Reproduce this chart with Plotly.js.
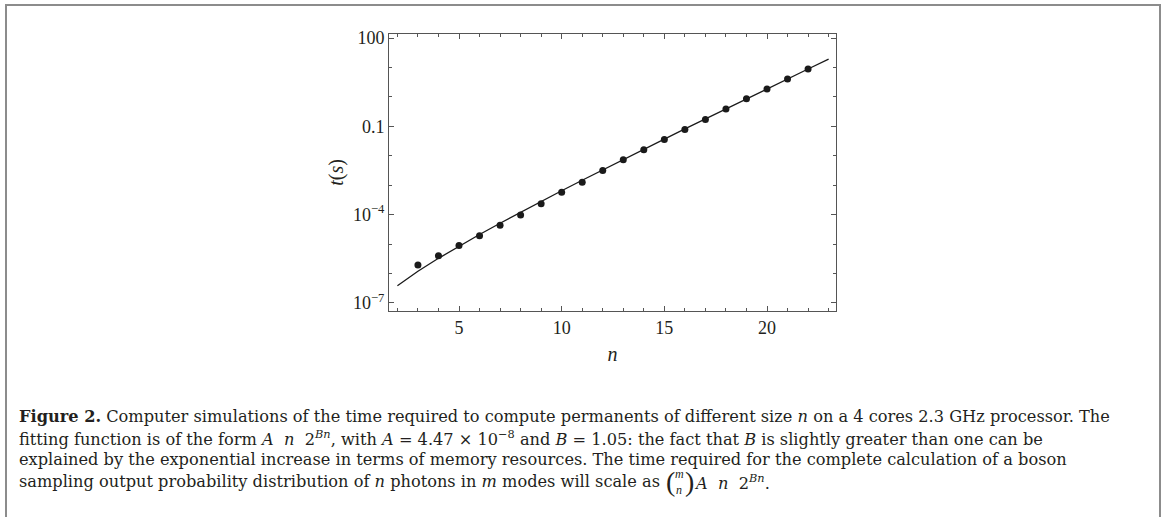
<!DOCTYPE html>
<html><head><meta charset="utf-8">
<script src="https://cdn.plot.ly/plotly-3.0.1.min.js"></script>
<style>html,body{margin:0;padding:0;background:#fff;} #chart{width:1165px;height:517px;}</style>
</head><body><div id="chart"></div>
<script>
// measured data points (n, time in seconds)
const nData = [3,4,5,6,7,8,9,10,11,12,13,14,15,16,17,18,19,20,21,22];
const tData = [1.96e-6,4.0e-6,8.9e-6,1.94e-5,4.4e-5,9.8e-5,2.33e-4,5.8e-4,1.27e-3,3.16e-3,7.3e-3,1.59e-2,3.58e-2,7.8e-2,0.171,0.385,0.863,1.84,4.03,8.83];
// fitted curve
const nFit = [2,3,4,5,6,7,8,9,10,11,12,13,14,15,16,17,18,19,20,21,22,23];
const tFit = [3.83e-7,1.19e-6,3.29e-6,8.51e-6,2.11e-5,5.10e-5,1.21e-4,2.81e-4,6.47e-4,1.47e-3,3.33e-3,7.47e-3,1.66e-2,3.70e-2,8.16e-2,0.180,0.394,0.860,1.87,4.08,8.84,19.1];
// ticks
const xTickVals = [5,10,15,20];
const xTickText = ['5','10','15','20'];
const xMinorVals = [2,3,4,6,7,8,9,11,12,13,14,16,17,18,19,21,22,23];
const yTickVals = [100,0.1,1e-4,1e-7];
const yTickText = ['100','0.1','10<sup>\u22124</sup>','10<sup>\u22127</sup>'];
const yMinorVals = [10,1,0.01,0.001,1e-5,1e-6];
// caption
const captionLines = [
  '<b>Figure 2.</b> Computer simulations of the time required to compute permanents of different size <i>n</i> on a 4 cores 2.3 GHz processor. The',
  'fitting function is of the form <i>A</i>\u00a0\u00a0<i>n</i>\u00a0\u00a02<sup><i>Bn</i></sup>, with <i>A</i> = 4.47 \u00d7 10<sup>\u22128</sup> and <i>B</i> = 1.05: the fact that <i>B</i> is slightly greater than one can be',
  'explained by the exponential increase in terms of memory resources. The time required for the complete calculation of a boson',
  'sampling output probability distribution of <i>n</i> photons in <i>m</i> modes will scale as'
];
const captionTail = '<i>A</i>\u00a0\u00a0<i>n</i>\u00a0\u00a02<sup><i>Bn</i></sup>.';

const L = 389, R = 836, T = 34, B = 311, W = 1165, H = 517;
const px = x => (x - L) / (R - L);
const py = y => (B - y) / (B - T);
const serif = 'Liberation Serif, Times New Roman, serif';
const capSerif = 'DejaVu Serif, Liberation Serif, serif';
const capFont = {family: capSerif, size: 16.2, color: '#231f20'};
const lineY = [416, 437.5, 459, 482];

const annotations = captionLines.map((t, i) => ({
  text: t, xref: 'paper', yref: 'paper', x: px(17), y: py(lineY[i]),
  xanchor: 'left', yanchor: 'middle', showarrow: false, align: 'left', font: capFont
}));

const frameColor = '#555';
const layout = {
  width: W, height: H,
  margin: {l: L, r: W - R, t: T, b: H - B, pad: 0},
  paper_bgcolor: '#fff', plot_bgcolor: '#fff',
  showlegend: false,
  xaxis: {
    range: [1.591, 23.36], showgrid: false, zeroline: false,
    showline: true, linecolor: frameColor, linewidth: 1, mirror: 'allticks',
    ticks: 'inside', ticklen: 5, tickcolor: frameColor, tickwidth: 1,
    tickmode: 'array', tickvals: xTickVals, ticktext: xTickText,
    tickfont: {family: serif, size: 18, color: '#231f20'},
    minor: {tickmode: 'array', tickvals: xMinorVals, ticks: 'inside', ticklen: 3, tickcolor: frameColor, showgrid: false},
    title: {text: '<i>n</i>', font: {family: serif, size: 20, color: '#231f20'}, standoff: 10}
  },
  yaxis: {
    type: 'log', range: [-7.272, 2.136], showgrid: false, zeroline: false,
    showline: true, linecolor: frameColor, linewidth: 1, mirror: 'allticks',
    ticks: 'inside', ticklen: 5, tickcolor: frameColor, tickwidth: 1,
    tickmode: 'array', tickvals: yTickVals, ticktext: yTickText,
    tickfont: {family: serif, size: 18, color: '#231f20'},
    minor: {tickmode: 'array', tickvals: yMinorVals, ticks: 'inside', ticklen: 3, tickcolor: frameColor, showgrid: false},
    title: {text: '<i>t</i>(<i>s</i>)', font: {family: serif, size: 20, color: '#231f20'}, standoff: 3}
  },
  shapes: [{
    type: 'rect', xref: 'paper', yref: 'paper', x0: px(6), x1: px(1160), y0: py(5), y1: py(540),
    line: {color: '#8c8c8c', width: 2}, fillcolor: 'rgba(0,0,0,0)', layer: 'below'
  }],
  annotations: annotations
};

const traces = [
  {x: nFit, y: tFit, mode: 'lines', type: 'scatter', line: {color: '#1a1a1a', width: 1.3}, hoverinfo: 'skip'},
  {x: nData, y: tData, mode: 'markers', type: 'scatter', marker: {color: '#1a1a1a', size: 7}}
];

Plotly.newPlot('chart', traces, layout, {displayModeBar: false, staticPlot: true}).then(gd => {
  const el = gd.querySelector('.annotation[data-index="3"] .annotation-text');
  const root = gd.getBoundingClientRect();
  const x0 = el ? el.getBoundingClientRect().right - root.left : 955;
  const yc = lineY[3];
  const extra = [
    {text: '(', x: px(x0 + 4), y: py(yc), font: {family: serif, size: 28, color: '#231f20'}},
    {text: '<i>m</i>', x: px(x0 + 13), y: py(yc - 8), font: {family: serif, size: 12, color: '#231f20'}},
    {text: '<i>n</i>', x: px(x0 + 14), y: py(yc + 8), font: {family: serif, size: 12, color: '#231f20'}},
    {text: ')', x: px(x0 + 23), y: py(yc), font: {family: serif, size: 28, color: '#231f20'}},
    {text: captionTail, x: px(x0 + 32), y: py(yc), font: capFont}
  ].map(a => Object.assign({xref: 'paper', yref: 'paper', xanchor: 'left', yanchor: 'middle', showarrow: false}, a));
  return Plotly.relayout(gd, {annotations: annotations.concat(extra)});
});
</script>
</body></html>
